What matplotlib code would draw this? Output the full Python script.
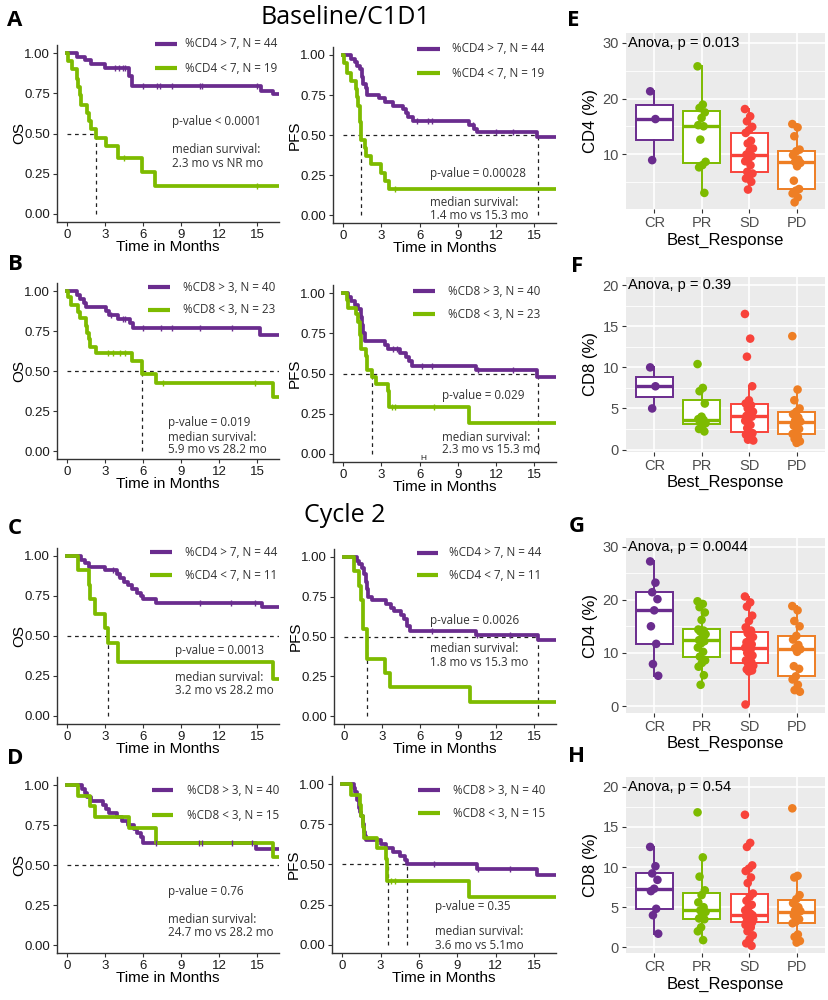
import numpy as np
import matplotlib.pyplot as plt

PURPLE = "#6A2C8E"
GREEN = "#7DBB00"
BOX_COLORS = ["#6A2C8E", "#7DBB00", "#F8433B", "#EE7E24"]
TXT = "#333333"
ARIAL = ["Liberation Sans", "DejaVu Sans"]
SEGOE = ["Open Sans", "DejaVu Sans"]

# ---------------- Kaplan-Meier curves (step times / survival) ----------------
# A: baseline CD4
a_os_hi_t = [0, 0.8, 1.4, 1.9, 3.0, 4.9, 5.1, 15.3, 16.2]
a_os_hi_s = [1.0, 0.977, 0.955, 0.932, 0.909, 0.86, 0.795, 0.765, 0.745]
a_os_hi_c = [3.8, 4.1, 4.4, 4.6, 6.0, 7.1, 7.3, 8.3, 10.5, 10.6, 15.0]
a_os_lo_t = [0, 0.1, 0.4, 0.8, 0.9, 1.0, 1.1, 1.6, 1.7, 1.9, 2.3, 3.1, 4.0, 5.9, 6.9]
a_os_lo_s = [1.0, 0.95, 0.90, 0.84, 0.79, 0.74, 0.68, 0.63, 0.58, 0.53, 0.47, 0.42, 0.35, 0.26, 0.175]
a_os_lo_c = [4.5, 15.0]
a_os_med = [2.3]

a_pfs_hi_t = [0, 0.6, 0.9, 1.1, 1.3, 1.5, 1.6, 1.8, 1.9, 2.8, 3.3, 3.9, 4.7, 4.9, 5.1, 5.5, 9.9, 10.3, 10.5, 15.2]
a_pfs_hi_s = [1.0, 0.977, 0.955, 0.93, 0.91, 0.86, 0.82, 0.795, 0.75, 0.73, 0.705, 0.68, 0.66, 0.635, 0.61, 0.585, 0.56, 0.54, 0.52, 0.485]
a_pfs_hi_c = [5.8, 6.7, 7.0, 10.2, 12.0, 13.3]
a_pfs_lo_t = [0, 0.1, 0.3, 0.6, 1.0, 1.1, 1.2, 1.3, 1.35, 1.4, 1.7, 1.8, 2.2, 3.0, 3.3, 3.6]
a_pfs_lo_s = [1.0, 0.95, 0.89, 0.84, 0.79, 0.74, 0.68, 0.63, 0.58, 0.47, 0.42, 0.37, 0.32, 0.26, 0.21, 0.16]
a_pfs_lo_c = [4.1]
a_pfs_med = [1.4, 15.3]

# B: baseline CD8
b_os_hi_t = [0, 0.8, 1.0, 1.3, 1.5, 3.1, 3.3, 4.0, 5.0, 5.2, 15.2]
b_os_hi_s = [1.0, 0.975, 0.95, 0.925, 0.90, 0.875, 0.85, 0.825, 0.80, 0.77, 0.725]
b_os_hi_c = [3.5, 4.4, 4.6, 6.0, 7.4, 8.3, 10.5, 13.0]
b_os_lo_t = [0, 0.05, 0.3, 0.9, 1.0, 1.5, 1.6, 1.75, 1.8, 2.3, 5.1, 5.9, 7.0, 16.2]
b_os_lo_s = [1.0, 0.96, 0.915, 0.87, 0.83, 0.78, 0.74, 0.70, 0.65, 0.61, 0.565, 0.48, 0.425, 0.34]
b_os_lo_c = [3.2, 3.6, 4.2, 4.6, 7.6, 14.8]
b_os_med = [5.9, 28.2]

b_pfs_hi_t = [0, 0.4, 0.6, 0.9, 1.2, 1.4, 1.5, 1.6, 1.7, 3.3, 3.5, 4.5, 4.9, 5.2, 5.4, 10.4, 15.2]
b_pfs_hi_s = [1.0, 0.975, 0.95, 0.925, 0.90, 0.85, 0.80, 0.75, 0.70, 0.675, 0.65, 0.625, 0.60, 0.575, 0.545, 0.52, 0.48]
b_pfs_hi_c = [3.9, 4.2, 6.2, 7.0, 10.6, 13.3]
b_pfs_lo_t = [0, 0.3, 0.4, 1.0, 1.2, 1.3, 1.4, 1.8, 1.9, 2.3, 2.6, 3.5, 3.6, 9.9]
b_pfs_lo_s = [1.0, 0.955, 0.91, 0.87, 0.82, 0.74, 0.65, 0.61, 0.52, 0.48, 0.435, 0.39, 0.29, 0.195]
b_pfs_lo_c = [3.8, 4.1, 7.1]
b_pfs_med = [2.3, 15.3]

# C: cycle 2 CD4
c_os_hi_t = [0, 1.1, 1.4, 1.7, 3.0, 3.9, 4.2, 4.5, 4.8, 5.1, 5.5, 5.8, 6.0, 7.0, 15.4]
c_os_hi_s = [1.0, 0.977, 0.955, 0.932, 0.91, 0.886, 0.864, 0.84, 0.82, 0.795, 0.77, 0.75, 0.73, 0.705, 0.68]
c_os_hi_c = [3.6, 4.0, 10.5, 12.9, 14.8]
c_os_lo_t = [0, 0.9, 1.7, 1.8, 2.2, 3.0, 3.2, 4.0, 16.2]
c_os_lo_s = [1.0, 0.91, 0.82, 0.73, 0.64, 0.55, 0.455, 0.34, 0.23]
c_os_lo_c = []
c_os_med = [3.2, 28.2]

c_pfs_hi_t = [0, 1.0, 1.2, 1.4, 1.6, 1.7, 1.8, 1.9, 2.2, 3.3, 3.7, 3.9, 4.5, 4.7, 5.0, 5.2, 10.4, 15.3]
c_pfs_hi_s = [1.0, 0.977, 0.955, 0.93, 0.89, 0.84, 0.80, 0.75, 0.73, 0.705, 0.68, 0.66, 0.635, 0.61, 0.565, 0.535, 0.51, 0.475]
c_pfs_hi_c = [6.9, 10.5, 13.1]
c_pfs_lo_t = [0, 0.8, 1.2, 1.3, 1.5, 1.8, 3.2, 3.6, 9.9]
c_pfs_lo_s = [1.0, 0.91, 0.82, 0.73, 0.545, 0.36, 0.27, 0.18, 0.09]
c_pfs_lo_c = []
c_pfs_med = [1.8, 15.3]

# D: cycle 2 CD8
d_os_hi_t = [0, 1.2, 1.4, 1.6, 1.9, 2.8, 3.1, 3.3, 3.9, 4.3, 4.8, 5.3, 5.5, 5.8, 6.0, 14.9]
d_os_hi_s = [1.0, 0.975, 0.95, 0.925, 0.90, 0.875, 0.85, 0.825, 0.80, 0.775, 0.75, 0.725, 0.70, 0.675, 0.635, 0.60]
d_os_hi_c = [7.0, 10.4, 10.6, 13.0, 14.6]
d_os_lo_t = [0, 0.9, 1.8, 2.2, 4.9, 7.0, 16.2]
d_os_lo_s = [1.0, 0.933, 0.867, 0.80, 0.733, 0.64, 0.55]
d_os_lo_c = []
d_os_med = [24.7, 28.2]

d_pfs_hi_t = [0, 0.9, 1.0, 1.2, 1.3, 1.4, 1.5, 1.6, 1.7, 1.8, 1.9, 3.0, 3.4, 4.0, 4.5, 4.9, 5.1, 10.5, 15.2]
d_pfs_hi_s = [1.0, 0.975, 0.95, 0.90, 0.85, 0.825, 0.80, 0.75, 0.70, 0.675, 0.65, 0.625, 0.60, 0.575, 0.55, 0.525, 0.50, 0.475, 0.435]
d_pfs_hi_c = [7.2, 10.6, 13.1]
d_pfs_lo_t = [0, 0.7, 1.4, 1.5, 1.6, 1.7, 2.7, 3.4, 3.5, 9.9]
d_pfs_lo_s = [1.0, 0.933, 0.867, 0.80, 0.733, 0.667, 0.60, 0.533, 0.40, 0.30]
d_pfs_lo_c = [3.8, 4.1]
d_pfs_med = [3.6, 5.1]

legend_cd4_a = ["%CD4 > 7, N = 44", "%CD4 < 7, N = 19"]
legend_cd8_b = ["%CD8 > 3, N = 40", "%CD8 < 3, N = 23"]
legend_cd4_c = ["%CD4 > 7, N = 44", "%CD4 < 7, N = 11"]
legend_cd8_d = ["%CD8 > 3, N = 40", "%CD8 < 3, N = 15"]

# ---------------- box plot data (Best_Response) ----------------
categories = ["CR", "PR", "SD", "PD"]
e_cd4_base = [
    [21.3, 16.3, 8.9],
    [25.8, 18.9, 18.3, 17.5, 16.5, 15.2, 15.0, 12.6, 8.6, 8.0, 7.6, 3.0],
    [18.1, 16.8, 15.9, 14.9, 14.3, 13.8, 12.4, 11.9, 11.0, 10.6, 9.9, 9.6, 9.2, 8.7, 8.0, 6.8, 6.5, 6.0, 5.6, 5.0, 3.6],
    [15.4, 14.8, 13.2, 10.8, 10.5, 9.8, 9.0, 8.6, 8.4, 7.8, 5.2, 3.7, 3.4, 2.9, 2.2, 1.3],
]
f_cd8_base = [
    [10.0, 7.7, 5.0],
    [10.4, 7.5, 7.1, 5.6, 4.0, 3.7, 3.6, 3.4, 3.2, 2.9, 2.5, 2.2],
    [16.5, 13.5, 11.3, 7.7, 6.0, 5.6, 5.4, 5.0, 4.6, 4.3, 4.1, 4.0, 3.8, 3.5, 3.0, 2.6, 2.0, 1.9, 1.8, 1.5, 1.2, 1.1],
    [13.8, 7.3, 6.0, 5.0, 4.6, 4.3, 3.9, 3.5, 3.4, 3.2, 2.9, 2.5, 2.1, 1.9, 1.6, 1.3, 1.0, 0.8],
]
g_cd4_c2 = [
    [27.2, 23.2, 21.4, 20.1, 18.0, 15.0, 11.7, 7.9, 5.7],
    [19.7, 19.2, 18.6, 17.6, 16.2, 14.4, 14.2, 14.0, 13.5, 12.8, 12.4, 12.2, 11.8, 11.0, 10.2, 9.3, 8.6, 8.1, 7.4, 5.8, 4.0],
    [20.6, 19.5, 18.7, 17.0, 16.0, 14.8, 14.2, 13.7, 13.0, 12.5, 12.0, 11.6, 11.3, 11.0, 10.5, 10.0, 9.5, 9.0,
     8.6, 8.3, 8.0, 7.6, 7.2, 6.9, 6.7, 6.5, 0.3],
    [18.8, 18.0, 16.0, 15.0, 13.2, 12.5, 11.5, 10.9, 10.7, 10.2, 7.5, 7.0, 5.6, 5.0, 4.0, 3.0, 2.7],
]
h_cd8_c2 = [
    [12.5, 10.1, 9.2, 8.4, 7.3, 7.0, 4.8, 4.0, 1.7],
    [16.8, 11.2, 8.8, 7.1, 6.5, 5.6, 5.0, 4.6, 4.4, 4.0, 3.6, 3.5, 2.5, 2.0, 0.9],
    [16.5, 13.0, 12.5, 10.2, 9.8, 9.5, 8.7, 8.0, 6.7, 6.3, 5.8, 5.3, 5.0, 4.6, 4.2, 4.1, 4.0, 4.0, 3.9,
     3.8, 3.6, 3.5, 3.3, 3.2, 3.1, 3.0, 2.8, 2.5, 2.0, 1.5, 1.0, 0.5, 0.2],
    [17.3, 8.9, 8.7, 6.5, 6.0, 5.5, 5.0, 4.6, 4.5, 4.3, 4.0, 3.5, 3.2, 3.0, 1.6, 1.3, 0.8, 0.6],
]

# ---------------- figure ----------------
W, H = 829, 1000
fig = plt.figure(figsize=(W / 100, H / 100), dpi=100)


def px_axes(l, t, r, b):
    return fig.add_axes([l / W, 1 - b / H, (r - l) / W, (b - t) / H])


def surv_at(t, s, x):
    return s[np.searchsorted(t, x, side="right") - 1]


def km_panel(box, ylab, hi, lo, meds, labels, key, ptxt, mtxt, tpos):
    ax = px_axes(*box)
    for (t, s, c), col in zip([hi, lo], [PURPLE, GREEN]):
        t = np.array(t)
        s = np.array(s)
        ax.step(np.append(t, 20), np.append(s, s[-1]), where="post",
                color=col, lw=2.7, zorder=3)
        if len(c):
            ax.plot(c, [surv_at(t, s, x) for x in c], "|", color=col,
                    ms=5, mew=1.0, zorder=4)
    # median lines
    ax.plot([0, max(meds)], [0.5, 0.5], color="#222222", lw=0.9,
            dashes=(3, 3), zorder=2)
    for m in meds:
        ax.plot([m, m], [0, 0.5], color="#222222", lw=0.9, dashes=(3, 3), zorder=2)
    ax.set_xlim(-0.79, 16.7)
    ax.set_ylim(-0.05, 1.05)
    ax.set_xticks([0, 3, 6, 9, 12, 15])
    ax.set_yticks([0, 0.25, 0.5, 0.75, 1.0])
    ax.set_yticklabels(["0.00", "0.25", "0.50", "0.75", "1.00"])
    for sp in ["top", "right"]:
        ax.spines[sp].set_visible(False)
    for sp in ["left", "bottom"]:
        ax.spines[sp].set_linewidth(1.0)
        ax.spines[sp].set_color("#333333")
    ax.tick_params(direction="out", length=3, width=0.8, color="#333333",
                   labelsize=9.5, labelcolor="#1a1a1a", pad=2)
    for lab in ax.get_xticklabels() + ax.get_yticklabels():
        lab.set_family(ARIAL)
    ax.set_xlabel("Time in Months", fontsize=11, family=ARIAL, va="center")
    ax.xaxis.set_label_coords(0.5, -0.142)
    ax.set_ylabel(ylab, fontsize=11, family=ARIAL, va="center")
    ax.yaxis.set_label_coords(-0.172, 0.5)
    # legend keys
    x0, x1, xt, y1, y2 = key
    for y, col, lab in [(y1, PURPLE, labels[0]), (y2, GREEN, labels[1])]:
        ax.plot([x0, x1], [y, y], transform=ax.transAxes, color=col, lw=3,
                clip_on=False, solid_capstyle="butt")
        ax.text(xt, y, lab, transform=ax.transAxes, fontsize=8.4, color=TXT,
                family=SEGOE, va="center", ha="left")
    tx, yp, ym1, ym2 = tpos
    ax.text(tx, yp, ptxt, transform=ax.transAxes, fontsize=8.4, color=TXT,
            family=SEGOE, va="center", ha="left")
    ax.text(tx, ym1, "median survival:", transform=ax.transAxes, fontsize=8.4,
            color=TXT, family=SEGOE, va="center", ha="left")
    ax.text(tx, ym2, mtxt, transform=ax.transAxes, fontsize=8.4, color=TXT,
            family=SEGOE, va="center", ha="left")
    return ax


km_panel((57, 45, 279, 222), "OS",
         (a_os_hi_t, a_os_hi_s, a_os_hi_c), (a_os_lo_t, a_os_lo_s, a_os_lo_c), a_os_med,
         legend_cd4_a, (0.441, 0.541, 0.577, 1.006, 0.87),
         "p-value < 0.0001", "2.3 mo vs NR mo", (0.52, 0.565, 0.412, 0.333))
km_panel((333, 47, 556, 223), "PFS",
         (a_pfs_hi_t, a_pfs_hi_s, a_pfs_hi_c), (a_pfs_lo_t, a_pfs_lo_s, a_pfs_lo_c), a_pfs_med,
         legend_cd4_a, (0.377, 0.48, 0.534, 0.99, 0.85),
         "p-value = 0.00028", "1.4 mo vs 15.3 mo", (0.435, 0.284, 0.119, 0.045))
km_panel((57, 283, 279, 459), "OS",
         (b_os_hi_t, b_os_hi_s, b_os_hi_c), (b_os_lo_t, b_os_lo_s, b_os_lo_c), b_os_med,
         legend_cd8_b, (0.41, 0.509, 0.568, 0.977, 0.847),
         "p-value = 0.019", "5.9 mo vs 28.2 mo", (0.50, 0.21, 0.125, 0.055))
ax_bp = km_panel((333, 285, 556, 462), "PFS",
                 (b_pfs_hi_t, b_pfs_hi_s, b_pfs_hi_c), (b_pfs_lo_t, b_pfs_lo_s, b_pfs_lo_c), b_pfs_med,
                 legend_cd8_b, (0.359, 0.457, 0.516, 0.966, 0.836),
                 "p-value = 0.029", "2.3 mo vs 15.3 mo", (0.487, 0.378, 0.14, 0.068))
ax_bp.text(6.3, -0.03, "H", fontsize=6, color="#222222", ha="center", va="center",
           family=ARIAL, clip_on=False)
km_panel((57, 548, 279, 724), "OS",
         (c_os_hi_t, c_os_hi_s, c_os_hi_c), (c_os_lo_t, c_os_lo_s, c_os_lo_c), c_os_med,
         legend_cd4_c, (0.419, 0.518, 0.577, 0.977, 0.846),
         "p-value = 0.0013", "3.2 mo vs 28.2 mo", (0.53, 0.42, 0.267, 0.188))
km_panel((334, 549, 556, 724), "PFS",
         (c_pfs_hi_t, c_pfs_hi_s, c_pfs_hi_c), (c_pfs_lo_t, c_pfs_lo_s, c_pfs_lo_c), c_pfs_med,
         legend_cd4_c, (0.374, 0.468, 0.52, 0.98, 0.85),
         "p-value = 0.0026", "1.8 mo vs 15.3 mo", (0.432, 0.594, 0.434, 0.349))
km_panel((57, 777, 279, 953), "OS",
         (d_os_hi_t, d_os_hi_s, d_os_hi_c), (d_os_lo_t, d_os_lo_s, d_os_lo_c), d_os_med,
         legend_cd8_d, (0.428, 0.523, 0.586, 0.926, 0.784),
         "p-value = 0.76", "24.7 mo vs 28.2 mo", (0.50, 0.352, 0.193, 0.114))
km_panel((332, 776, 556, 953), "PFS",
         (d_pfs_hi_t, d_pfs_hi_s, d_pfs_hi_c), (d_pfs_lo_t, d_pfs_lo_s, d_pfs_lo_c), d_pfs_med,
         legend_cd8_d, (0.384, 0.482, 0.54, 0.92, 0.79),
         "p-value = 0.35", "3.6 mo vs 5.1mo", (0.46, 0.265, 0.119, 0.045))


def box_panel(box, groups, ylab, ylim, yticks, minor, anova, ypos):
    ax = px_axes(*box)
    ax.set_facecolor("#EBEBEB")
    for y in minor:
        ax.axhline(y, color="white", lw=0.6, zorder=0)
    for y in yticks:
        ax.axhline(y, color="white", lw=1.2, zorder=0)
    for i in range(len(categories)):
        ax.axvline(i + 1, color="white", lw=1.2, zorder=0)
    for i, (vals, col) in enumerate(zip(groups, BOX_COLORS)):
        ax.boxplot([vals], positions=[i + 1], widths=0.78, showfliers=False,
                   showcaps=False, patch_artist=True,
                   boxprops=dict(facecolor="white", edgecolor=col, lw=1.4),
                   medianprops=dict(color=col, lw=2.4),
                   whiskerprops=dict(color=col, lw=1.4), zorder=2)
        n = len(vals)
        jit = ((np.arange(n) * 0.618) % 1 - 0.5) * 0.18
        ax.scatter(i + 1 + jit, vals, s=38, color=col, edgecolors="none", zorder=3)
    ax.set_xlim(0.4, 4.6)
    ax.set_ylim(*ylim)
    ax.set_xticks(range(1, 5))
    ax.set_xticklabels(categories)
    ax.set_yticks(yticks)
    for sp in ax.spines.values():
        sp.set_visible(False)
    ax.tick_params(length=3, width=0.8, color="#333333", labelsize=10.5,
                   labelcolor="#4D4D4D", pad=2)
    for lab in ax.get_xticklabels() + ax.get_yticklabels():
        lab.set_family(ARIAL)
    ax.set_xlabel("Best_Response", fontsize=12, family=ARIAL, va="center")
    ax.xaxis.set_label_coords(0.5, -0.176)
    ax.set_ylabel(ylab, fontsize=12, family=ARIAL, va="center")
    ax.yaxis.set_label_coords(-0.18, 0.5)
    ax.text(0.44, ypos, anova, fontsize=10.5, family=ARIAL, va="center", ha="left")
    return ax


box_panel((626, 33, 825, 209), e_cd4_base, "CD4 (%)", (0.1, 31.8), [10, 20, 30],
          [5, 15, 25], "Anova, p = 0.013", 30)
box_panel((626, 277, 825, 452), f_cd8_base, "CD8 (%)", (-0.3, 21.0), [0, 5, 10, 15, 20],
          [2.5, 7.5, 12.5, 17.5], "Anova, p = 0.39", 20)
box_panel((626, 538, 825, 713), g_cd4_c2, "CD4 (%)", (-1.3, 31.6), [0, 10, 20, 30],
          [5, 15, 25], "Anova, p = 0.0044", 30)
box_panel((626, 777, 825, 953), h_cd8_c2, "CD8 (%)", (-0.7, 21.2), [0, 5, 10, 15, 20],
          [2.5, 7.5, 12.5, 17.5], "Anova, p = 0.54", 20)

# titles and panel letters
fig.text(345 / W, 1 - 18 / H, "Baseline/C1D1", fontsize=18, family=SEGOE,
         ha="center", va="center")
fig.text(345 / W, 1 - 516 / H, "Cycle 2", fontsize=18, family=SEGOE,
         ha="center", va="center")
for letter, x, y in [("A", 15, 20), ("B", 15, 265), ("C", 15, 528), ("D", 15, 758),
                     ("E", 573, 20), ("F", 577, 267), ("G", 577, 526), ("H", 577, 757)]:
    fig.text(x / W, 1 - y / H, letter, fontsize=16, fontweight="bold",
             family=SEGOE, ha="center", va="center")

fig.savefig("out.png", dpi=100)
